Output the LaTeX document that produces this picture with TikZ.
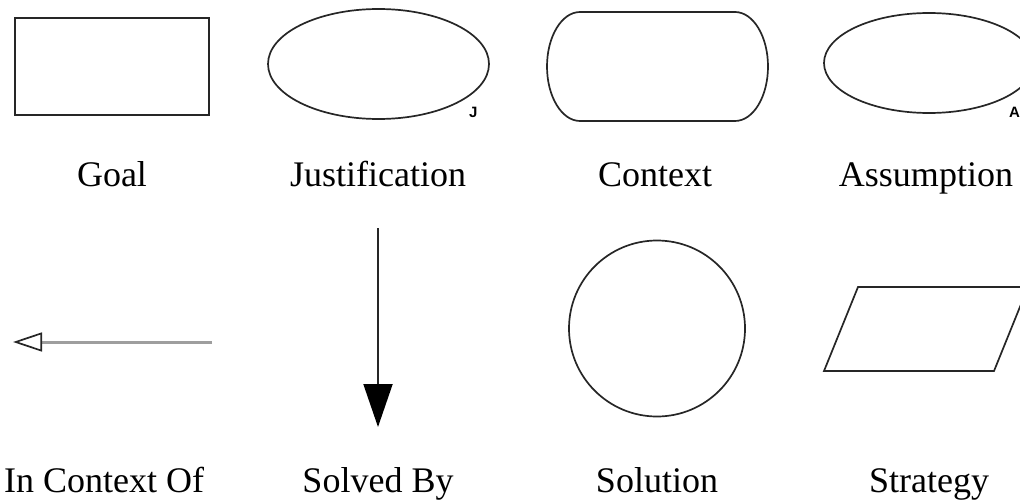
\documentclass[tikz,border=0pt]{standalone}
\usepackage{fontspec}
\setmainfont{Liberation Serif}
\newfontfamily\lsans{Liberation Sans}
\usetikzlibrary{shapes.geometric,arrows.meta}
\begin{document}
\begin{tikzpicture}[x=1pt,y=-1pt,
  outline/.style={draw=black!85, line width=1.7pt},
  lbl/.style={anchor=base, inner sep=0pt, font=\fontsize{36}{40}\selectfont},
  tag/.style={anchor=base west, inner sep=0pt, font=\lsans\bfseries\fontsize{15}{16}\selectfont},
  ctxarrow/.style={draw=black!38, line width=3pt,
     -{Triangle[open, length=29pt, width=19pt, line width=1.7pt, color=black!85, fill=white]}},
  solarrow/.style={draw=black!85, line width=1.9pt,
     -{Triangle[length=43pt, width=29pt, color=black]}}
]
\useasboundingbox (0,0) rectangle (1020,503);
\clip (0,0) rectangle (1020,503);
% top row shapes
\node[outline, rectangle, minimum width=194pt, minimum height=97pt, inner sep=0pt] (goal) at (112,66.5) {};
\node[outline, ellipse, minimum width=221pt, minimum height=110pt, inner sep=0pt] (just) at (378.5,64) {};
\node[tag] (jtag) at (469,117) {J};
\draw[outline] (580,12) -- (735,12)
  .. controls (753.2,12) and (768,36.4) .. (768,66.5)
  .. controls (768,96.6) and (753.2,121) .. (735,121)
  -- (580,121)
  .. controls (561.8,121) and (547,96.6) .. (547,66.5)
  .. controls (547,36.4) and (561.8,12) .. (580,12) -- cycle;
\node[outline, ellipse, minimum width=210pt, minimum height=100pt, inner sep=0pt] (assum) at (929,63) {};
\node[tag] (atag) at (1009,117) {A};
% top labels
\node[lbl] (lgoal) at (112,186) {Goal};
\node[lbl] (ljust) at (378,186) {Justification};
\node[lbl] (lctx) at (655,186) {Context};
\node[lbl] (lass) at (926,186) {Assumption};
% bottom row
\coordinate (icoS) at (212,342);
\coordinate (icoE) at (13,342);
\draw[ctxarrow] (icoS) -- (icoE);
\coordinate (sbS) at (378,228);
\coordinate (sbE) at (378,427);
\draw[solarrow] (sbS) -- (sbE);
\node[outline, circle, minimum size=176pt, inner sep=0pt] (sol) at (657,328.5) {};
\draw[outline] (858,287) -- (1028,287) -- (994,371) -- (824,371) -- cycle;
% bottom labels
\node[lbl] (lico) at (104,492) {In Context Of};
\node[lbl] (lsb) at (378,492) {Solved By};
\node[lbl] (lsol) at (657,492) {Solution};
\node[lbl] (lstr) at (929,492) {Strategy};
\end{tikzpicture}
\end{document}
